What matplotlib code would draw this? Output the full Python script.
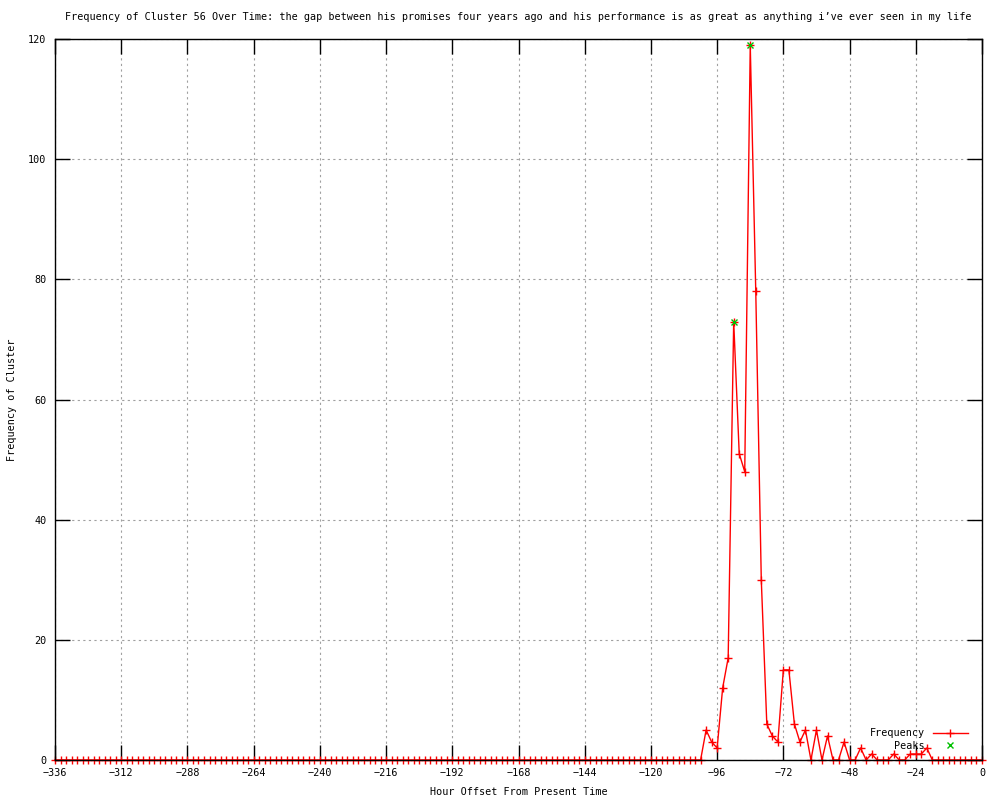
import matplotlib.pyplot as plt

hours = list(range(-336, 1, 2))
frequency = [
    0, 0, 0, 0, 0, 0, 0, 0, 0, 0, 0, 0, 0, 0, 0, 0, 0, 0, 0, 0,
    0, 0, 0, 0, 0, 0, 0, 0, 0, 0, 0, 0, 0, 0, 0, 0, 0, 0, 0, 0,
    0, 0, 0, 0, 0, 0, 0, 0, 0, 0, 0, 0, 0, 0, 0, 0, 0, 0, 0, 0,
    0, 0, 0, 0, 0, 0, 0, 0, 0, 0, 0, 0, 0, 0, 0, 0, 0, 0, 0, 0,
    0, 0, 0, 0, 0, 0, 0, 0, 0, 0, 0, 0, 0, 0, 0, 0, 0, 0, 0, 0,
    0, 0, 0, 0, 0, 0, 0, 0, 0, 0, 0, 0, 0, 0, 0, 0, 0, 0,
    5, 3, 2, 12, 17, 73, 51, 48, 119, 78, 30, 6, 4, 3, 15, 15, 6, 3, 5, 0,
    5, 0, 4, 0, 0, 3, 0, 0, 2, 0, 1, 0, 0, 0, 1, 0, 0, 1, 1, 1,
    2, 0, 0, 0, 0, 0, 0, 0, 0, 0, 0,
]
peak_hours = [-90, -84]
peak_values = [73, 119]

title = ('Frequency of Cluster 56 Over Time: the gap between his promises four years ago '
         'and his performance is as great as anything i\u2019ve ever seen in my life')

plt.rcParams['font.family'] = ['DejaVu Sans Mono']
fs = 7.3

fig = plt.figure(figsize=(10, 8), dpi=100)
ax = fig.add_axes([0.055, 0.05, 0.927, 0.901])

ax.plot(hours, frequency, color='red', lw=1, marker='+', ms=5.5, mew=1,
        label='Frequency', clip_on=False, zorder=3)
ax.plot(peak_hours, peak_values, ls='none', color='#00c000', marker='x', ms=5, mew=1,
        label='Peaks', zorder=4)

ax.set_xlim(-336, 0)
ax.set_ylim(0, 120)
ax.set_xticks(range(-336, 1, 24))
ax.set_yticks(range(0, 121, 20))
ax.tick_params(direction='in', length=11, width=1, top=True, right=True,
               labelsize=fs, pad=6)
ax.grid(True, color='#a0a0a0', linestyle=(0, (2, 3)), lw=0.8)
for s in ax.spines.values():
    s.set_linewidth(1)
    s.set_zorder(5)

ax.set_title(title, fontsize=fs, pad=14)
ax.set_xlabel('Hour Offset From Present Time', fontsize=fs, labelpad=6)
ax.set_ylabel('Frequency of Cluster', fontsize=fs, labelpad=8)

ax.legend(loc='lower right', bbox_to_anchor=(0.995, 0.0), frameon=False, markerfirst=False,
          fontsize=fs, handlelength=3.5, labelspacing=0.25, handletextpad=0.8)

fig.savefig('out.png', dpi=100)
